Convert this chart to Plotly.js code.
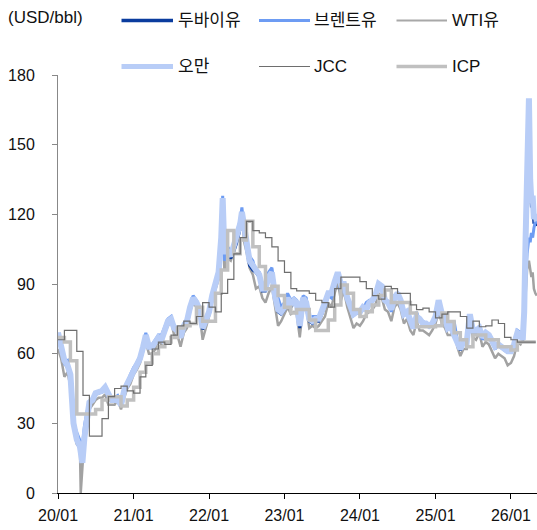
<!DOCTYPE html>
<html><head><meta charset="utf-8">
<script src="https://cdn.plot.ly/plotly-3.0.1.min.js"></script>
<style>html,body{margin:0;padding:0;background:#fff;}#chart{width:537px;height:530px;}</style>
</head><body><div id="chart"></div>
<script>
// semi-monthly sampled daily prices (USD/bbl)
const dates = [
 '2020-01-01','2020-01-16','2020-02-01','2020-02-16','2020-03-01','2020-03-16','2020-04-01','2020-04-16','2020-04-20','2020-04-28','2020-05-08','2020-05-20','2020-06-01','2020-06-16','2020-07-01','2020-07-16','2020-08-01','2020-08-16','2020-09-01','2020-09-16','2020-10-01','2020-10-16','2020-11-01','2020-11-16','2020-12-01','2020-12-16',
 '2021-01-01','2021-01-16','2021-02-01','2021-02-16','2021-03-01','2021-03-16','2021-04-01','2021-04-16','2021-05-01','2021-05-16','2021-06-01','2021-06-16','2021-07-01','2021-07-16','2021-08-01','2021-08-16','2021-09-01','2021-09-16','2021-10-01','2021-10-16','2021-11-01','2021-11-16','2021-12-01','2021-12-16',
 '2022-01-01','2022-01-16','2022-02-01','2022-02-16','2022-03-01','2022-03-08','2022-03-16','2022-04-01','2022-04-16','2022-05-01','2022-05-16','2022-06-01','2022-06-09','2022-06-20','2022-07-01','2022-07-16','2022-08-01','2022-08-16','2022-09-01','2022-09-16','2022-10-01','2022-10-16','2022-11-01','2022-11-16','2022-12-01','2022-12-16',
 '2023-01-01','2023-01-16','2023-02-01','2023-02-16','2023-03-01','2023-03-16','2023-04-01','2023-04-16','2023-05-01','2023-05-16','2023-06-01','2023-06-16','2023-07-01','2023-07-16','2023-08-01','2023-08-16','2023-09-01','2023-09-16','2023-10-01','2023-10-16','2023-11-01','2023-11-16','2023-12-01','2023-12-16',
 '2024-01-01','2024-01-16','2024-02-01','2024-02-16','2024-03-01','2024-03-16','2024-04-01','2024-04-16','2024-05-01','2024-05-16','2024-06-01','2024-06-16','2024-07-01','2024-07-16','2024-08-01','2024-08-16','2024-09-01','2024-09-16','2024-10-01','2024-10-16','2024-11-01','2024-11-16','2024-12-01','2024-12-16',
 '2025-01-01','2025-01-16','2025-02-01','2025-02-16','2025-03-01','2025-03-16','2025-04-01','2025-04-16','2025-05-01','2025-05-16','2025-06-01','2025-06-16','2025-07-01','2025-07-16','2025-08-01','2025-08-16','2025-09-01','2025-09-16','2025-10-01','2025-10-16','2025-11-01','2025-11-16','2025-12-01','2025-12-16',
 '2026-01-01','2026-01-16','2026-02-01','2026-02-16','2026-02-27','2026-03-06','2026-03-13','2026-03-20','2026-03-29','2026-04-04','2026-04-10','2026-04-16','2026-04-22','2026-04-29','2026-05-06'
];
const dubai = [
 68,63,56,54,50,29,22,19,17,14,23,33,38,40,42.5,43,43.5,45,41.5,40,39.5,40,37.5,43.5,47,49.5,
 52.5,54.5,57.5,62.5,67.5,62.5,62.5,64.5,66.5,66,70.5,73,74,70.5,69.5,67,71.5,73.5,79.5,83,81,78,70.5,73.5,
 77,84,89,94,108,124,102,103,101,104,108,114,119,112,106,98,96,95,93,87,87,92,94,84,78,77,
 79,83,80,82,81,71,83,81,74,73,74,74,77,81,85,85.5,90,94,89,89.5,83,79.5,76.5,77.5,
 77.5,79.5,79,81.5,82.5,84.5,89.5,88.5,82.5,81.5,78.5,83.5,85.5,82.5,76.5,77.5,73.5,71,75.5,74.5,72.5,72.5,71.5,72.5,
 75.5,82.5,76.5,74.5,70.5,71.5,67.5,64.5,61.5,64.5,64.5,76,69.5,69.5,70.5,66.5,68.5,67.5,65.5,62.5,63.5,62.5,61.5,60.5,
 60.5,63.5,68.5,67.5,65.5,77,108,137,166,133,123,126,116,118,115
];
const brent = [
 69,64,56,57,51,30,26,23,22,20,29,35,39,41,43,43.5,44,45,41,41,41,42,39,44,48,51,
 54,56,59,64,69,64,64,66,68,68,72,75,76,72,71,69,73,75,81,85,83,80,72,75,
 79,86,90,96,112,128,100,106,104,106,112,118,123,113,108,102,100,95,95,90,90,95,97,88,84,80,
 82,86,83,84,83,73,85,84,75,76,76,76,79,80,85,84,89,94,86,90,85,80,76,79,
 77,79,82,83,83,86,90,88,83,82,78,85,86,82,77,79,74,72,78,74,74,73,72,73,
 76,81,76,75,71,71,74,66,62,65,65,76,69,69,72,66,68,68,65,62,64,63,62,61,
 61,64,70,69,70,80,92,103,110,108,112,110,114,117,116
];
const wti = [
 62,58,50,52,46,28,21,20,0,12,24,32,36,38,40,41,41,42.5,38,38,38,40,36,41,45,47,
 51,53,56,61,65,60,60,62,65,64,69,72,74,68,68,63,69,71,78,82,80,77,66,71,
 76,83,88,92,106,123,96,101,100,104,110,114,120,108,104,97,94,88,89,84,82,86,89,80,72,74,
 77,80,77,78,77,67,80,80,71,72,71,72,74,76,82,80,86,91,83,87,80,76,71,73,
 72,74,77,78,79,81,86,84,79,78,74,80,82,79,73,75,70,68,74,70,70,69,68,70,
 73,78,73,71,68,68,71,63,59,62,62,73,67,66,69,63,65,64,61,58,60,59,58,55,
 56,59,65,64,66,75,87,96,100,97,93,95,88,86,85
];
const oman = [
 69,64,57,55,51,30,23,20,17,13,24,34,39,40,43,43.5,44,45.5,42,40,40,40,38,44,47,50,
 53,55,58,63,68,63,63,65,67,66,71,74,75,71,70,67,72,74,80,84,82,79,71,74,
 78,85,90,95,110,127,104,104,102,106,110,116,121,114,108,100,98,96,94,88,88,93,95,85,79,78,
 80,84,81,83,82,72,84,82,75,74,75,75,78,82,86,86,91,95,90,90,84,80,77,78,
 78,80,79,82,83,85,90,89,83,82,79,84,86,83,77,78,74,71,76,75,73,73,72,73,
 76,83,77,75,71,72,68,65,62,65,65,77,70,70,71,67,69,68,66,63,64,63,62,61,
 61,64,69,68,66,78,110,140,170,135,125,128,118,120,117
];
// monthly official prices (2020-01 .. 2026-05)
const jcc = [
 66,70,70,61,42,24.5,24.5,32,41.5,45,46,44,
 43,50,55,62,65,64,68,72,74,73,76,82,
 80,78,86,92,103,110,117,113,112,110,106,100,
 95,88,87,87,86,83,82,80,88,93,93,93,
 91,88,85,83.5,89,88,86,86,81,79,79.6,78,
 75.4,77,78,78,76,71,74,71.6,72,74.5,73,67,
 66,65,65,65,65
];
const icp = [
 67,65,57,34,34,34,36,40,41.5,41.5,37.5,40,
 45.5,52,56,60,63,65,67,71,72,73,80,74,
 74,86,96,113,103,109,117,106,97.5,88,89,85,
 80,77.5,79,79,74.5,70,70,74.5,81,89.6,86,79,
 76,78,81,85,87.4,82,82,82,77.5,71.6,71.6,71.6,
 72,77.5,73.8,69,66,63,68,68,66,66,63,63,
 61.6,65,65,65,65
];
const tickVals = ['2020-01-01','2021-01-01','2022-01-01','2023-01-01','2024-01-01','2025-01-01','2026-01-01'];
const tickText = ['20/01','21/01','22/01','23/01','24/01','25/01','26/01'];
const names = ['두바이유','브렌트유','WTI유','오만','JCC','ICP'];

const months = [];
for (let y = 2020; y <= 2026; y++) for (let m = 1; m <= 12; m++) {
  if (months.length < jcc.length) months.push(y + '-' + String(m).padStart(2,'0') + '-01');
}

const C = {dubai:'#0a3c9e', brent:'#6d9cf3', wti:'#a2a2a2', oman:'#b8cdf7', jcc:'#6e6e6e', icp:'#c0c0c0'};
const W = {dubai:3, brent:3, wti:2.5, oman:6, jcc:1.2, icp:3.5};

const traces = [
  {x:dates, y:wti, name:names[2], line:{color:C.wti, width:W.wti}},
  {x:dates, y:dubai, name:names[0], line:{color:C.dubai, width:W.dubai}},
  {x:dates, y:brent, name:names[1], line:{color:C.brent, width:W.brent}},
  {x:dates, y:oman, name:names[3], line:{color:C.oman, width:W.oman}},
  {x:months, y:icp, name:names[5], line:{color:C.icp, width:W.icp, shape:'hv'}},
  {x:months, y:jcc, name:names[4], line:{color:C.jcc, width:W.jcc, shape:'hv'}}
].map(t => Object.assign({type:'scatter', mode:'lines', hoverinfo:'skip'}, t));

// custom legend (pixel positions converted to paper coords)
const L = 58, T = 75, PW = 537 - 58, PH = 418;
const px = v => (v - L) / PW, py = v => (T + PH - v) / PH;
const legendItems = [
  {name:names[0], c:C.dubai, w:3.5, x0:121.5, x1:173, tx:176, y:20.5},
  {name:names[1], c:C.brent, w:3, x0:259, x1:310, tx:312, y:20.5},
  {name:names[2], c:'#a8a8a8', w:2, x0:396.5, x1:447, tx:450, y:20.5},
  {name:names[3], c:C.oman, w:5, x0:121.5, x1:173, tx:176, y:66.5},
  {name:names[4], c:C.jcc, w:1.2, x0:259, x1:310, tx:312, y:66.5},
  {name:names[5], c:C.icp, w:3.5, x0:396.5, x1:447, tx:450, y:66.5}
];
const FONT = '"Liberation Sans", Arial, "Noto Sans CJK KR", sans-serif';
const shapes = legendItems.map(it => ({type:'line', xref:'paper', yref:'paper',
  x0:px(it.x0), x1:px(it.x1), y0:py(it.y), y1:py(it.y), line:{color:it.c, width:it.w}}));
const annotations = legendItems.map(it => ({xref:'paper', yref:'paper', x:px(it.tx), y:py(it.y),
  xanchor:'left', yanchor:'middle', showarrow:false, text:it.name,
  font:{family:FONT, size:17, color:'#111'}}));
annotations.push({xref:'paper', yref:'paper', x:px(6), y:py(18), xanchor:'left', yanchor:'middle',
  showarrow:false, text:'(USD/bbl)', font:{family:FONT, size:17, color:'#111'}});

const layout = {
  width:537, height:530, margin:{l:L, r:0, t:T, b:530 - T - PH, pad:0},
  paper_bgcolor:'#fff', plot_bgcolor:'#fff', showlegend:false,
  font:{family:FONT, color:'#111'},
  xaxis:{type:'date', range:['2020-01-01','2026-05-07'], tickmode:'array', tickvals:tickVals, ticktext:tickText,
    ticks:'outside', ticklen:5, tickwidth:1, tickcolor:'#000', showline:true, linecolor:'#000', linewidth:1,
    showgrid:false, zeroline:false, tickfont:{size:16, family:FONT, color:'#111'}, ticklabelstandoff:3},
  yaxis:{range:[0,180], tickmode:'linear', tick0:0, dtick:30, ticks:'outside', ticklen:5, tickwidth:1,
    tickcolor:'#888', showline:true, linecolor:'#888', linewidth:1, showgrid:false, zeroline:false,
    tickfont:{size:16, family:FONT, color:'#111'}, ticklabelstandoff:14},
  shapes:shapes, annotations:annotations
};
Plotly.newPlot('chart', traces, layout, {displayModeBar:false, staticPlot:true});
</script></body></html>
